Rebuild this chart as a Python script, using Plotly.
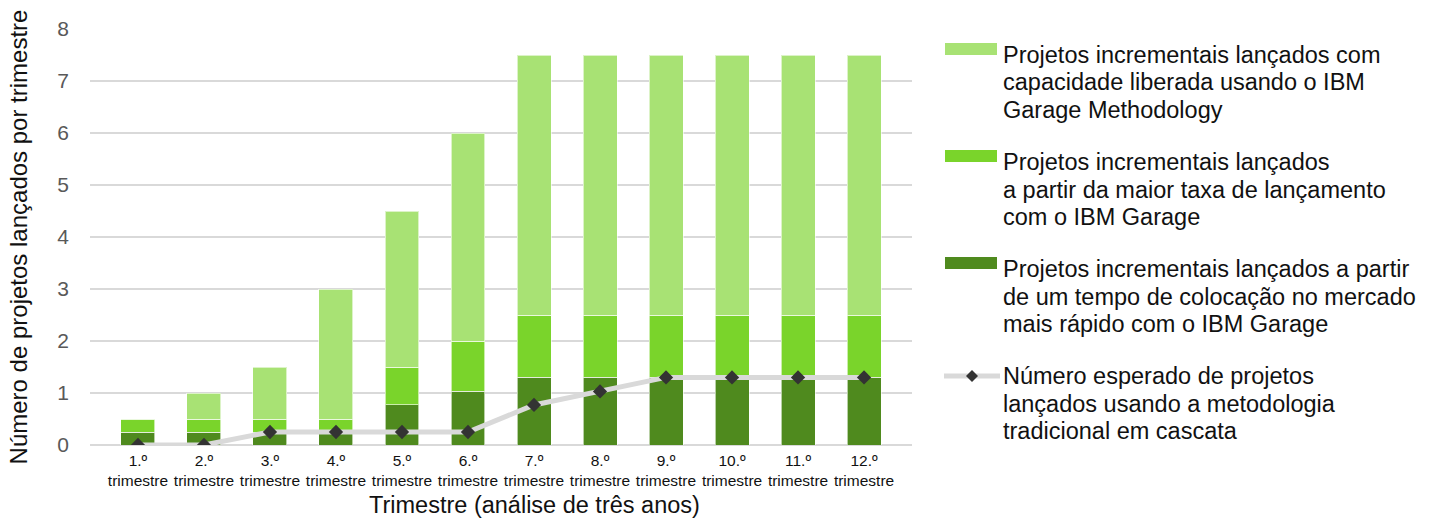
import plotly.graph_objects as go

quarters = ["1.º<br>trimestre", "2.º<br>trimestre", "3.º<br>trimestre", "4.º<br>trimestre",
            "5.º<br>trimestre", "6.º<br>trimestre", "7.º<br>trimestre", "8.º<br>trimestre",
            "9.º<br>trimestre", "10.º<br>trimestre", "11.º<br>trimestre", "12.º<br>trimestre"]
dark_vals = [0.25, 0.25, 0.25, 0.25, 0.77, 1.03, 1.3, 1.3, 1.3, 1.3, 1.3, 1.3]
mid_vals = [0.25, 0.25, 0.25, 0.25, 0.73, 0.97, 1.2, 1.2, 1.2, 1.2, 1.2, 1.2]
light_vals = [0.0, 0.5, 1.0, 2.5, 3.0, 4.0, 5.0, 5.0, 5.0, 5.0, 5.0, 5.0]
waterfall_vals = [0, 0, 0.25, 0.25, 0.25, 0.25, 0.77, 1.03, 1.3, 1.3, 1.3, 1.3]

x_title = "Trimestre (análise de três anos)"
y_title = "Número de projetos lançados por trimestre"

legend_items = [
    ("bar", "#A8E274", ["Projetos incrementais lançados com", "capacidade liberada usando o IBM", "Garage Methodology"]),
    ("bar", "#7AD42B", ["Projetos incrementais lançados", "a partir da maior taxa de lançamento", "com o IBM Garage"]),
    ("bar", "#4F8A1E", ["Projetos incrementais lançados a partir", "de um tempo de colocação no mercado", "mais rápido com o IBM Garage"]),
    ("line", "#D9D9D9", ["Número esperado de projetos", "lançados usando a metodologia", "tradicional em cascata"]),
]

FONT = "Liberation Sans, Arial, sans-serif"
W, H = 1439, 529
ML, MR, MT, MB = 90, 527, 29, 84

fig = go.Figure()
for vals, col in [(dark_vals, "#4F8A1E"), (mid_vals, "#7AD42B"), (light_vals, "#A8E274")]:
    fig.add_trace(go.Bar(x=quarters, y=vals, marker=dict(color=col, line=dict(color="rgba(255,255,255,0.6)", width=1)),
                         showlegend=False, hoverinfo="skip"))
fig.add_trace(go.Scatter(x=quarters, y=waterfall_vals, mode="lines+markers",
                         line=dict(color="#D9D9D9", width=5),
                         marker=dict(symbol="diamond", size=11, color="#333333"),
                         showlegend=False, hoverinfo="skip"))

annotations = []
shapes = []
pw = W - ML - MR
ph = H - MT - MB
def px_to_paper_x(px):
    return (px - ML) / pw
def px_to_paper_y(py):
    return 1 - (py - MT) / ph

entry_tops = [55, 162, 269, 376]
for (kind, col, lines), y0 in zip(legend_items, entry_tops):
    if kind == "bar":
        shapes.append(dict(type="rect", xref="paper", yref="paper",
                           x0=px_to_paper_x(945), x1=px_to_paper_x(997),
                           y0=px_to_paper_y(y0 - 12), y1=px_to_paper_y(y0),
                           fillcolor=col, line=dict(width=0)))
    else:
        shapes.append(dict(type="line", xref="paper", yref="paper",
                           x0=px_to_paper_x(944), x1=px_to_paper_x(1000),
                           y0=px_to_paper_y(y0), y1=px_to_paper_y(y0),
                           line=dict(color=col, width=5)))
        shapes.append(dict(type="path", xref="paper", yref="paper",
                           path="M {a},{b} L {c},{d} L {e},{f} L {g},{h} Z".format(
                               a=px_to_paper_x(966), b=px_to_paper_y(y0),
                               c=px_to_paper_x(972), d=px_to_paper_y(y0 - 6),
                               e=px_to_paper_x(978), f=px_to_paper_y(y0),
                               g=px_to_paper_x(972), h=px_to_paper_y(y0 + 6)),
                           fillcolor="#333333", line=dict(width=0)))
    for i, t in enumerate(lines):
        annotations.append(dict(text=t, xref="paper", yref="paper",
                                x=px_to_paper_x(1001), y=px_to_paper_y(y0 + i * 27.5),
                                xanchor="left", yanchor="middle", showarrow=False,
                                font=dict(family=FONT, size=23.5, color="#111111")))

annotations.append(dict(text=x_title, xref="paper", yref="paper",
                        x=px_to_paper_x(534), y=px_to_paper_y(505),
                        xanchor="center", yanchor="middle", showarrow=False,
                        font=dict(family=FONT, size=23.5, color="#111111")))

fig.update_layout(
    width=W, height=H,
    margin=dict(l=ML, r=MR, t=MT, b=MB),
    barmode="stack", bargap=0.485,
    plot_bgcolor="white", paper_bgcolor="white",
    font=dict(family=FONT, color="#111111"),
    shapes=shapes, annotations=annotations,
    xaxis=dict(tickfont=dict(size=15.5, color="#111111"), showgrid=False, showline=False,
               ticks="", ticklabelstandoff=4),
    yaxis=dict(range=[0, 8], dtick=1, tickfont=dict(size=21, color="#595959"),
               showgrid=True, gridcolor="#D9D9D9", gridwidth=1.5, zeroline=True, zerolinecolor="#D9D9D9", zerolinewidth=1.5,
               ticks="", ticklabelstandoff=20,
               title=dict(text=y_title, font=dict(size=24, color="#111111"), standoff=22)),
)

fig.write_html("out.html")
